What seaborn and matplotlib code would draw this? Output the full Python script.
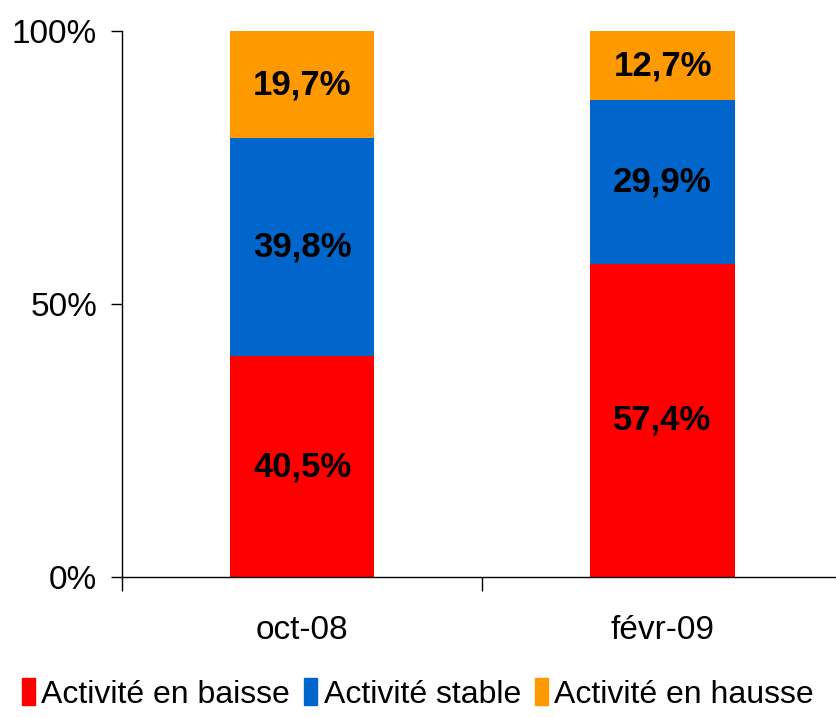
import pandas as pd
import seaborn as sns
import matplotlib.pyplot as plt
from matplotlib.ticker import FixedLocator

# Data
periods = ["oct-08", "févr-09"]
series_names = ["Activité en baisse", "Activité stable", "Activité en hausse"]
baisse = [40.5, 57.4]
stable = [39.8, 29.9]
hausse = [19.7, 12.7]
colors = ["#FF0000", "#0066CC", "#FF9900"]

sns.set_theme(style="white")
plt.rcParams['font.family'] = ['Liberation Sans', 'DejaVu Sans']
plt.rcParams['text.color'] = 'black'

fig = plt.figure(figsize=(8.36, 7.17), dpi=100)
ax = fig.add_axes([0.146, 0.195, 0.862, 0.762])

bottoms = [0.0, 0.0]
for name, vals, col in zip(series_names, [baisse, stable, hausse], colors):
    df = pd.DataFrame({"period": periods, "value": vals})
    sns.barplot(data=df, x="period", y="value", color=col, width=0.4,
                bottom=bottoms, label=name, ax=ax, saturation=1,
                edgecolor="none", linewidth=0, legend=False)
    for i, v in enumerate(vals):
        ax.text(i, bottoms[i] + v / 2, f"{v:.1f}%".replace(".", ","),
                ha="center", va="center", fontsize=25, fontweight="bold",
                color="black")
    bottoms = [b + v for b, v in zip(bottoms, vals)]

if ax.get_legend() is not None:
    ax.get_legend().remove()

ax.set_xlim(-0.5, 1.5)
ax.set_ylim(0, 100)
ax.set_yticks([0, 50, 100])
ax.set_yticklabels(["0%", "50%", "100%"], fontsize=24)
ax.set_xticks([0, 1])
ax.set_xticklabels(periods, fontsize=24)
ax.xaxis.set_minor_locator(FixedLocator([-0.5, 0.5, 1.5]))
ax.tick_params(axis="x", which="major", length=0, pad=27, labelcolor="black")
ax.tick_params(axis="x", which="minor", length=10, width=1, color="black",
               direction="out", bottom=True)
ax.tick_params(axis="y", length=8, width=1, color="black", direction="out",
               left=True, pad=10, labelcolor="black")
ax.set_xlabel("")
ax.set_ylabel("")

for side in ["top", "right"]:
    ax.spines[side].set_visible(False)
for side in ["left", "bottom"]:
    ax.spines[side].set_color("black")
    ax.spines[side].set_linewidth(1)

handles = [plt.Rectangle((0, 0), 1, 1, color=c) for c in colors]
fig.legend(handles, series_names, loc="center", bbox_to_anchor=(0.5, 0.032),
           ncol=3, frameon=False, fontsize=23, handlelength=0.4,
           handleheight=0.9, handletextpad=0.2, columnspacing=0.45,
           borderaxespad=0, borderpad=0, labelcolor="black")

fig.savefig("out.png", dpi=100)
